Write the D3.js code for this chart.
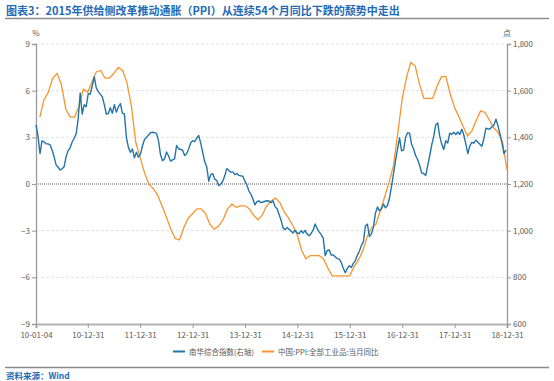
<!DOCTYPE html>
<html><head><meta charset="utf-8">
<script src="https://cdn.jsdelivr.net/npm/d3@7"></script>
<style>body{margin:0;background:#fff} svg text{font-family:"Noto Sans CJK SC","Noto Sans",sans-serif}</style>
</head><body><svg id="c" width="554" height="381"></svg>
<script>
const titleText = "图表3：2015年供给侧改革推动通胀（PPI）从连续54个月同比下跌的颓势中走出";
const sourceText = "资料来源：Wind";
const seriesNames = ["南华综合指数(右轴)", "中国:PPI:全部工业品:当月同比"];
const leftUnit = "%";
const rightUnit = "点";
const xTickDates = ["2010-01-04","2010-12-31","2011-12-31","2012-12-31","2013-12-31","2014-12-31","2015-12-31","2016-12-31","2017-12-31","2018-12-31"];
const xTickLabels = ["10-01-04","10-12-31","11-12-31","12-12-31","13-12-31","14-12-31","15-12-31","16-12-31","17-12-31","18-12-31"];
const leftTicks = [-9,-6,-3,0,3,6,9];
const rightTicks = [600,800,1000,1200,1400,1600,1800];

// PPI yoy, monthly (month end) from 2010-01 to 2018-12
const ppiStartYear = 2010;
const ppiValues = [
 4.3,5.4,5.9,6.8,7.1,6.4,4.8,4.3,4.3,5.0,6.1,5.9,
 6.6,7.2,7.3,6.8,6.8,7.1,7.5,7.3,6.5,5.0,2.7,1.7,
 0.7,0.0,-0.3,-0.7,-1.4,-2.1,-2.9,-3.5,-3.6,-2.8,-2.2,-1.9,
 -1.6,-1.6,-1.9,-2.6,-2.9,-2.7,-2.3,-1.6,-1.3,-1.5,-1.4,-1.4,
 -1.6,-2.0,-2.3,-2.0,-1.4,-1.1,-0.9,-1.2,-1.8,-2.2,-2.7,-3.3,
 -4.3,-4.8,-4.6,-4.6,-4.6,-4.8,-5.4,-5.9,-5.9,-5.9,-5.9,-5.9,
 -5.3,-4.9,-4.3,-3.4,-2.8,-2.6,-1.7,-0.8,0.1,1.2,3.3,5.5,
 6.9,7.8,7.6,6.4,5.5,5.5,5.5,6.3,6.9,6.9,5.8,4.9,
 4.3,3.7,3.1,3.4,4.1,4.7,4.6,4.1,3.6,3.3,2.7,0.9
];

// Nanhua composite index, sampled every 14 days from 2010-01-04
const nanhuaStart = "2010-01-04";
const nanhuaStepDays = 14;
const nanhuaValues = [
 1453,1405,1330,1385,1381,1372,1372,1368,1346,1317,
 1282,1272,1260,1265,1274,1318,1343,1355,1380,1396,
 1415,1480,1590,1500,1540,1531,1587,1585,1620,1660,
 1612,1596,1585,1574,1540,1500,1502,1527,1503,1540,
 1508,1530,1545,1504,1500,1400,1357,1336,1350,1312,
 1336,1315,1328,1363,1391,1400,1410,1420,1422,1420,
 1417,1385,1325,1300,1308,1337,1320,1298,1303,1308,
 1365,1351,1348,1345,1322,1330,1350,1376,1386,1382,
 1396,1408,1375,1336,1295,1274,1212,1240,1244,1220,
 1216,1193,1200,1212,1236,1266,1258,1250,1252,1240,
 1245,1237,1235,1233,1212,1196,1170,1156,1136,1111,
 1124,1128,1120,1123,1126,1128,1127,1120,1128,1103,
 1094,1070,1045,1012,1004,1014,1006,998,990,1002,
 990,987,1000,990,1001,985,978,988,1002,1029,
 1008,995,983,968,893,915,918,895,896,888,
 880,878,863,839,820,838,850,842,860,872,
 895,912,936,953,1020,1028,975,986,1015,1075,
 1102,1085,1093,1114,1098,1108,1140,1190,1245,1300,
 1350,1398,1342,1345,1400,1420,1418,1370,1350,1322,
 1305,1280,1248,1245,1236,1278,1320,1367,1402,1453,
 1462,1405,1371,1348,1385,1376,1418,1413,1422,1412,
 1423,1412,1435,1410,1372,1330,1363,1378,1375,1388,
 1379,1370,1362,1394,1439,1436,1436,1445,1453,1478,
 1450,1415,1375,1330,1345
];

const parse = d3.timeParse("%Y-%m-%d");
const ppiData = ppiValues.map((v,i)=>({date:new Date(ppiStartYear, i+1, 0), value:v}));
const nhStart = parse(nanhuaStart);
const nhData = nanhuaValues.map((v,i)=>({date:d3.timeDay.offset(nhStart, i*nanhuaStepDays), value:v}));
const tickDates = xTickDates.map(parse);

const svg = d3.select("#c");
const L=36, R=507, T=44, B=324;
const blue="#2474a8", orange="#f7952e", txt="#595959", axisC="#9a9a9a";

const x = d3.scaleTime().domain([tickDates[0], tickDates[tickDates.length-1]]).range([L,R]);
const yL = d3.scaleLinear().domain([-9,9]).range([B,T]);
const yR = d3.scaleLinear().domain([600,1800]).range([B,T]);

// title
svg.append("text").attr("x",6).attr("y",15).attr("font-size",11).attr("font-weight","bold")
  .attr("fill","#1f6bb5").text(titleText);
svg.append("line").attr("x1",5).attr("x2",549).attr("y1",18.5).attr("y2",18.5)
  .attr("stroke","#8c8c8c").attr("stroke-width",1.3);

// grid
svg.append("g").selectAll("line").data(leftTicks.filter(d=>d!==0 && d!==-9)).join("line")
  .attr("x1",L).attr("x2",R).attr("y1",d=>yL(d)).attr("y2",d=>yL(d))
  .attr("stroke","#d9d9d9").attr("stroke-width",0.8).attr("stroke-dasharray","3,2");
svg.append("line").attr("x1",L).attr("x2",R).attr("y1",yL(0)).attr("y2",yL(0))
  .attr("stroke","#555").attr("stroke-width",1).attr("stroke-dasharray","1,1");

// axes
const gl = svg.append("g").attr("transform",`translate(${L},0)`)
  .call(d3.axisLeft(yL).tickValues(leftTicks).tickSize(4).tickPadding(2).tickFormat(d3.format("d")));
const gr = svg.append("g").attr("transform",`translate(${R},0)`)
  .call(d3.axisRight(yR).tickValues(rightTicks).tickSize(4).tickPadding(2).tickFormat(d3.format(",")));
const gx = svg.append("g").attr("transform",`translate(0,${B})`)
  .call(d3.axisBottom(x).tickValues(tickDates).tickSize(4).tickPadding(4).tickFormat((d,i)=>xTickLabels[i]));
[gl,gr,gx].forEach(g=>{
  g.select(".domain").attr("stroke",axisC).attr("stroke-width",1.3);
  g.selectAll(".tick line").attr("stroke",axisC);
  g.selectAll(".tick text").attr("fill",txt).attr("font-size",8).style("font-family",'"Noto Sans CJK SC","Noto Sans",sans-serif');
});
gx.select(".domain").attr("stroke","#b3b3b3").attr("stroke-width",2);

svg.append("text").attr("x",L).attr("y",36).attr("text-anchor","middle").attr("font-size",8).attr("fill",txt).text(leftUnit);
svg.append("text").attr("x",R).attr("y",36).attr("text-anchor","middle").attr("font-size",8).attr("fill",txt).text(rightUnit);

// lines
svg.append("path").datum(ppiData).attr("fill","none").attr("stroke",orange).attr("stroke-width",1.3)
  .attr("d",d3.line().x(d=>x(d.date)).y(d=>yL(d.value)));
svg.append("path").datum(nhData).attr("fill","none").attr("stroke",blue).attr("stroke-width",1.4)
  .attr("stroke-linejoin","round")
  .attr("d",d3.line().x(d=>x(d.date)).y(d=>yR(d.value)));

// legend
const lg = svg.append("g");
let lx = 173;
[blue,orange].forEach((c,i)=>{
  lg.append("line").attr("x1",lx).attr("x2",lx+12).attr("y1",351.5).attr("y2",351.5).attr("stroke",c).attr("stroke-width",2);
  const t = lg.append("text").attr("x",lx+16).attr("y",354.5).attr("font-size",7.5).attr("fill",txt).text(seriesNames[i]);
  lx += 16 + t.node().getComputedTextLength() + 8;
});

// footer
svg.append("line").attr("x1",5).attr("x2",549).attr("y1",367.5).attr("y2",367.5)
  .attr("stroke","#8c8c8c").attr("stroke-width",1.3);
svg.append("text").attr("x",6).attr("y",378.5).attr("font-size",8.5).attr("font-weight","bold")
  .attr("fill","#1f6bb5").text(sourceText);
</script></body></html>
